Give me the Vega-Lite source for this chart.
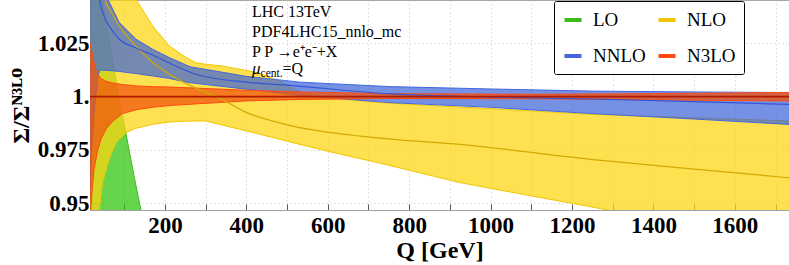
{
  "$schema": "https://vega.github.io/schema/vega-lite/v6.json",
  "width": 699,
  "height": 210,
  "autosize": {"type": "none"},
  "padding": {"left": 90, "top": 0, "right": 0, "bottom": 55},
  "background": "white",
  "config": {
    "font": "Liberation Serif",
    "view": {"stroke": "#a8a8a8", "strokeWidth": 1},
    "axis": {
      "labelFont": "Liberation Serif", "labelFontWeight": "bold", "labelFontSize": 23, "labelColor": "black",
      "titleFont": "Liberation Serif", "titleFontWeight": "bold", "titleColor": "black",
      "domainColor": "#a0a0a0", "tickColor": "#555555", "gridColor": "#c4c4c4", "gridDash": [1, 3],
      "labelFlush": false, "labelOverlap": false
    },
    "legend": {"labelFont": "Liberation Serif"}
  },
  "datasets": {
    "bands": [
      {"o": "LO", "Q": 15, "lo": 0.8, "hi": 1.085},
      {"o": "LO", "Q": 30, "lo": 0.8, "hi": 1.064},
      {"o": "LO", "Q": 45, "lo": 0.8, "hi": 1.046},
      {"o": "LO", "Q": 60, "lo": 0.8, "hi": 1.03},
      {"o": "LO", "Q": 75, "lo": 0.8, "hi": 1.013},
      {"o": "LO", "Q": 88, "lo": 0.8, "hi": 0.9987},
      {"o": "LO", "Q": 100, "lo": 0.8, "hi": 0.987},
      {"o": "LO", "Q": 110, "lo": 0.8, "hi": 0.977},
      {"o": "LO", "Q": 125, "lo": 0.8, "hi": 0.962},
      {"o": "LO", "Q": 141, "lo": 0.8, "hi": 0.947},
      {"o": "LO", "Q": 160, "lo": 0.8, "hi": 0.928},
      {"o": "LO", "Q": 200, "lo": 0.8, "hi": 0.89},

      {"o": "NLO", "Q": 15, "lo": 0.85, "hi": 1.3},
      {"o": "NLO", "Q": 20, "lo": 0.88, "hi": 1.24},
      {"o": "NLO", "Q": 30, "lo": 0.925, "hi": 1.16},
      {"o": "NLO", "Q": 39, "lo": 0.9472, "hi": 1.12},
      {"o": "NLO", "Q": 47, "lo": 0.9597, "hi": 1.1},
      {"o": "NLO", "Q": 63, "lo": 0.9706, "hi": 1.08},
      {"o": "NLO", "Q": 80, "lo": 0.9784, "hi": 1.065},
      {"o": "NLO", "Q": 104, "lo": 0.9831, "hi": 1.052},
      {"o": "NLO", "Q": 129, "lo": 0.9852, "hi": 1.0456},
      {"o": "NLO", "Q": 170, "lo": 0.987, "hi": 1.0331},
      {"o": "NLO", "Q": 211, "lo": 0.9881, "hi": 1.0237},
      {"o": "NLO", "Q": 252, "lo": 0.9885, "hi": 1.0183},
      {"o": "NLO", "Q": 276, "lo": 0.98856, "hi": 1.0159},
      {"o": "NLO", "Q": 300, "lo": 0.9886, "hi": 1.0152},
      {"o": "NLO", "Q": 343, "lo": 0.9866, "hi": 1.0143},
      {"o": "NLO", "Q": 426, "lo": 0.9827, "hi": 1.0113},
      {"o": "NLO", "Q": 480, "lo": 0.9801, "hi": 1.0075},
      {"o": "NLO", "Q": 532, "lo": 0.9776, "hi": 1.002},
      {"o": "NLO", "Q": 600, "lo": 0.9744, "hi": 0.9995},
      {"o": "NLO", "Q": 729, "lo": 0.9688, "hi": 0.9972},
      {"o": "NLO", "Q": 925, "lo": 0.9597, "hi": 0.9951},
      {"o": "NLO", "Q": 1000, "lo": 0.957, "hi": 0.9944},
      {"o": "NLO", "Q": 1245, "lo": 0.9484, "hi": 0.9917},
      {"o": "NLO", "Q": 1500, "lo": 0.9394, "hi": 0.9901},
      {"o": "NLO", "Q": 1750, "lo": 0.9305, "hi": 0.9885},

      {"o": "NNLO", "Q": 15, "lo": 0.95, "hi": 1.15},
      {"o": "NNLO", "Q": 20, "lo": 0.975, "hi": 1.12},
      {"o": "NNLO", "Q": 25, "lo": 0.99, "hi": 1.1},
      {"o": "NNLO", "Q": 30, "lo": 1.0, "hi": 1.085},
      {"o": "NNLO", "Q": 35, "lo": 1.009, "hi": 1.07},
      {"o": "NNLO", "Q": 40, "lo": 1.0125, "hi": 1.06},
      {"o": "NNLO", "Q": 60, "lo": 1.0123, "hi": 1.0456},
      {"o": "NNLO", "Q": 88, "lo": 1.0118, "hi": 1.0347},
      {"o": "NNLO", "Q": 129, "lo": 1.0108, "hi": 1.0269},
      {"o": "NNLO", "Q": 170, "lo": 1.0097, "hi": 1.0222},
      {"o": "NNLO", "Q": 211, "lo": 1.0085, "hi": 1.0183},
      {"o": "NNLO", "Q": 262, "lo": 1.0065, "hi": 1.014},
      {"o": "NNLO", "Q": 400, "lo": 1.0035, "hi": 1.0095},
      {"o": "NNLO", "Q": 532, "lo": 1.0005, "hi": 1.0068},
      {"o": "NNLO", "Q": 753, "lo": 0.9972, "hi": 1.0047},
      {"o": "NNLO", "Q": 1000, "lo": 0.995, "hi": 1.0036},
      {"o": "NNLO", "Q": 1245, "lo": 0.9921, "hi": 1.0026},
      {"o": "NNLO", "Q": 1500, "lo": 0.9895, "hi": 1.0022},
      {"o": "NNLO", "Q": 1750, "lo": 0.9868, "hi": 1.0019},

      {"o": "N3LO", "Q": 15, "lo": 0.94, "hi": 1.0255},
      {"o": "N3LO", "Q": 18, "lo": 0.947, "hi": 1.0236},
      {"o": "N3LO", "Q": 22, "lo": 0.958, "hi": 1.0198},
      {"o": "N3LO", "Q": 26, "lo": 0.966, "hi": 1.0161},
      {"o": "N3LO", "Q": 30, "lo": 0.97, "hi": 1.0128},
      {"o": "N3LO", "Q": 35, "lo": 0.975, "hi": 1.0105},
      {"o": "N3LO", "Q": 43, "lo": 0.98, "hi": 1.0085},
      {"o": "N3LO", "Q": 55, "lo": 0.9847, "hi": 1.0072},
      {"o": "N3LO", "Q": 72, "lo": 0.9885, "hi": 1.0064},
      {"o": "N3LO", "Q": 95, "lo": 0.992, "hi": 1.0057},
      {"o": "N3LO", "Q": 130, "lo": 0.9939, "hi": 1.005},
      {"o": "N3LO", "Q": 170, "lo": 0.995, "hi": 1.0047},
      {"o": "N3LO", "Q": 210, "lo": 0.9958, "hi": 1.0045},
      {"o": "N3LO", "Q": 276, "lo": 0.9966, "hi": 1.004},
      {"o": "N3LO", "Q": 400, "lo": 0.998, "hi": 1.003},
      {"o": "N3LO", "Q": 532, "lo": 0.9987, "hi": 1.0022},
      {"o": "N3LO", "Q": 753, "lo": 0.9991, "hi": 1.0014},
      {"o": "N3LO", "Q": 1100, "lo": 0.999, "hi": 1.0011},
      {"o": "N3LO", "Q": 1400, "lo": 0.9985, "hi": 1.0014},
      {"o": "N3LO", "Q": 1750, "lo": 0.9979, "hi": 1.002}
    ],
    "centers": [
      {"o": "NLO", "Q": 15, "c": 1.25},
      {"o": "NLO", "Q": 30, "c": 1.12},
      {"o": "NLO", "Q": 53, "c": 1.0456},
      {"o": "NLO", "Q": 70, "c": 1.039},
      {"o": "NLO", "Q": 88, "c": 1.0331},
      {"o": "NLO", "Q": 129, "c": 1.0237},
      {"o": "NLO", "Q": 170, "c": 1.016},
      {"o": "NLO", "Q": 211, "c": 1.0105},
      {"o": "NLO", "Q": 276, "c": 1.004},
      {"o": "NLO", "Q": 327, "c": 1.0},
      {"o": "NLO", "Q": 401, "c": 0.9925},
      {"o": "NLO", "Q": 515, "c": 0.9862},
      {"o": "NLO", "Q": 679, "c": 0.9815},
      {"o": "NLO", "Q": 760, "c": 0.98},
      {"o": "NLO", "Q": 925, "c": 0.9776},
      {"o": "NLO", "Q": 1245, "c": 0.9706},
      {"o": "NLO", "Q": 1500, "c": 0.966},
      {"o": "NLO", "Q": 1750, "c": 0.9617},

      {"o": "NNLO", "Q": 15, "c": 1.1},
      {"o": "NNLO", "Q": 25, "c": 1.07},
      {"o": "NNLO", "Q": 39, "c": 1.0456},
      {"o": "NNLO", "Q": 50, "c": 1.038},
      {"o": "NNLO", "Q": 63, "c": 1.0331},
      {"o": "NNLO", "Q": 88, "c": 1.0269},
      {"o": "NNLO", "Q": 129, "c": 1.0228},
      {"o": "NNLO", "Q": 170, "c": 1.0195},
      {"o": "NNLO", "Q": 211, "c": 1.0158},
      {"o": "NNLO", "Q": 276, "c": 1.0105},
      {"o": "NNLO", "Q": 400, "c": 1.0068},
      {"o": "NNLO", "Q": 507, "c": 1.0053},
      {"o": "NNLO", "Q": 753, "c": 1.0013},
      {"o": "NNLO", "Q": 1000, "c": 0.9998},
      {"o": "NNLO", "Q": 1245, "c": 0.9989},
      {"o": "NNLO", "Q": 1500, "c": 0.9977},
      {"o": "NNLO", "Q": 1750, "c": 0.9963},

      {"o": "N3LO", "Q": 15, "c": 1.0},
      {"o": "N3LO", "Q": 1750, "c": 1.0}
    ]
  },
  "layer": [
    {
      "data": {"name": "bands"},
      "transform": [{"filter": "datum.o === 'LO'"}],
      "mark": {"type": "area", "clip": true, "fillOpacity": 0.73, "strokeWidth": 1, "strokeOpacity": 1},
      "encoding": {
        "x": {"field": "Q", "type": "quantitative", "scale": {"domain": [16, 1733], "nice": false, "zero": false},
          "axis": {"title": "Q [GeV]", "values": [100, 200, 300, 400, 500, 600, 700, 800, 900, 1000, 1100, 1200, 1300, 1400, 1500, 1600, 1700],
            "format": "d", "labelExpr": "datum.value % 200 === 0 ? datum.label : ''", "grid": true, "tickSize": -6,
            "labelFont": "Liberation Serif", "labelFontWeight": "bold", "labelFontSize": 23,
            "labelPadding": 10, "titleFont": "Liberation Serif", "titleFontSize": 24, "titlePadding": 1}},
        "y": {"field": "lo", "type": "quantitative", "stack": null, "scale": {"domain": [0.94686, 1.0453], "nice": false, "zero": false},
          "axis": {"title": "Σ/Σᴺ³ᴸᴼ", "values": [0.95, 0.975, 1, 1.025], "labelExpr": "datum.value === 1 ? '1.' : format(datum.value, '.3~f')",
            "grid": true, "tickSize": -9, "labelPadding": 10,
            "labelFont": "Liberation Serif", "labelFontWeight": "bold", "labelFontSize": 23,
            "titleFont": "Liberation Serif", "titleFontSize": 24, "titlePadding": 4}},
        "y2": {"field": "hi"},
        "fill": {"field": "o", "type": "nominal", "scale": {"domain": ["LO", "NLO", "NNLO", "N3LO"], "range": ["#2dc40a", "#fcd611", "#3a62d8", "#f2560e"]},
          "legend": {"title": null, "orient": "none", "legendX": 464, "legendY": 1, "columns": 2, "direction": "horizontal",
            "symbolType": "stroke", "symbolStrokeWidth": 4, "symbolSize": 290, "labelFont": "Liberation Serif", "labelFontSize": 19,
            "labelColor": "black", "labelOffset": 9, "columnPadding": 4, "rowPadding": 15, "padding": 8,
            "strokeColor": "black", "fillColor": "white", "cornerRadius": 2, "symbolOpacity": 1}},
        "stroke": {"field": "o", "type": "nominal", "scale": {"domain": ["LO", "NLO", "NNLO", "N3LO"], "range": ["#3dbb1a", "#f2c500", "#4468e0", "#ff4a12"]},
          "legend": {"title": null, "orient": "none", "legendX": 464, "legendY": 1, "columns": 2, "direction": "horizontal",
            "symbolType": "stroke", "symbolStrokeWidth": 4, "symbolSize": 290, "labelFont": "Liberation Serif", "labelFontSize": 19,
            "labelColor": "black", "labelOffset": 9, "columnPadding": 4, "rowPadding": 15, "padding": 8,
            "strokeColor": "black", "fillColor": "white", "cornerRadius": 2, "symbolOpacity": 1}}
      }
    },
    {
      "data": {"name": "bands"},
      "transform": [{"filter": "datum.o === 'NLO'"}],
      "mark": {"type": "area", "clip": true, "fillOpacity": 0.73, "strokeWidth": 1, "strokeOpacity": 1},
      "encoding": {
        "x": {"field": "Q", "type": "quantitative"},
        "y": {"field": "lo", "type": "quantitative", "stack": null},
        "y2": {"field": "hi"},
        "fill": {"field": "o", "type": "nominal"},
        "stroke": {"field": "o", "type": "nominal"}
      }
    },
    {
      "data": {"name": "bands"},
      "transform": [{"filter": "datum.o === 'NNLO'"}],
      "mark": {"type": "area", "clip": true, "fillOpacity": 0.7, "strokeWidth": 1, "strokeOpacity": 1},
      "encoding": {
        "x": {"field": "Q", "type": "quantitative"},
        "y": {"field": "lo", "type": "quantitative", "stack": null},
        "y2": {"field": "hi"},
        "fill": {"field": "o", "type": "nominal"},
        "stroke": {"field": "o", "type": "nominal"}
      }
    },
    {
      "data": {"name": "bands"},
      "transform": [{"filter": "datum.o === 'N3LO'"}],
      "mark": {"type": "area", "clip": true, "fillOpacity": 0.75, "strokeWidth": 1, "strokeOpacity": 1},
      "encoding": {
        "x": {"field": "Q", "type": "quantitative"},
        "y": {"field": "lo", "type": "quantitative", "stack": null},
        "y2": {"field": "hi"},
        "fill": {"field": "o", "type": "nominal"},
        "stroke": {"field": "o", "type": "nominal"}
      }
    },
    {
      "data": {"name": "centers"},
      "transform": [{"filter": "datum.o === 'NLO'"}],
      "mark": {"type": "line", "clip": true, "stroke": "#d2a900", "strokeWidth": 1.2, "interpolate": "monotone"},
      "encoding": {"x": {"field": "Q", "type": "quantitative"}, "y": {"field": "c", "type": "quantitative"}}
    },
    {
      "data": {"name": "centers"},
      "transform": [{"filter": "datum.o === 'NNLO'"}],
      "mark": {"type": "line", "clip": true, "stroke": "#3355d6", "strokeWidth": 1.2, "interpolate": "monotone"},
      "encoding": {"x": {"field": "Q", "type": "quantitative"}, "y": {"field": "c", "type": "quantitative"}}
    },
    {
      "data": {"name": "centers"},
      "transform": [{"filter": "datum.o === 'N3LO'"}],
      "mark": {"type": "line", "clip": true, "stroke": "#b01a00", "strokeWidth": 1.6},
      "encoding": {"x": {"field": "Q", "type": "quantitative"}, "y": {"field": "c", "type": "quantitative"}}
    },
    {
      "data": {"values": [{}]},
      "mark": {"type": "text", "text": "LHC 13TeV", "align": "left", "baseline": "alphabetic", "font": "Liberation Serif", "fontSize": 16, "color": "black"},
      "encoding": {"x": {"datum": 414, "type": "quantitative"}, "y": {"datum": 1.0372, "type": "quantitative"}}
    },
    {
      "data": {"values": [{}]},
      "mark": {"type": "text", "text": "PDF4LHC15_nnlo_mc", "align": "left", "baseline": "alphabetic", "font": "Liberation Serif", "fontSize": 16, "color": "black"},
      "encoding": {"x": {"datum": 414, "type": "quantitative"}, "y": {"datum": 1.0278, "type": "quantitative"}}
    },
    {
      "data": {"values": [{}]},
      "mark": {"type": "text", "text": "P P →e⁺e⁻+X", "align": "left", "baseline": "alphabetic", "font": "Liberation Serif", "fontSize": 16, "color": "black"},
      "encoding": {"x": {"datum": 414, "type": "quantitative"}, "y": {"datum": 1.0187, "type": "quantitative"}}
    },
    {
      "data": {"values": [{}]},
      "mark": {"type": "text", "text": "μ", "align": "left", "baseline": "alphabetic", "font": "Liberation Serif", "fontStyle": "italic", "fontSize": 17, "color": "black"},
      "encoding": {"x": {"datum": 414, "type": "quantitative"}, "y": {"datum": 1.0106, "type": "quantitative"}}
    },
    {
      "data": {"values": [{}]},
      "mark": {"type": "text", "text": "cent.", "align": "left", "baseline": "alphabetic", "font": "Liberation Serif", "fontSize": 11.5, "color": "black", "dx": 8.5, "dy": 3},
      "encoding": {"x": {"datum": 414, "type": "quantitative"}, "y": {"datum": 1.0106, "type": "quantitative"}}
    },
    {
      "data": {"values": [{}]},
      "mark": {"type": "text", "text": "=Q", "align": "left", "baseline": "alphabetic", "font": "Liberation Serif", "fontSize": 16, "color": "black", "dx": 30.5},
      "encoding": {"x": {"datum": 414, "type": "quantitative"}, "y": {"datum": 1.0106, "type": "quantitative"}}
    }
  ]
}
